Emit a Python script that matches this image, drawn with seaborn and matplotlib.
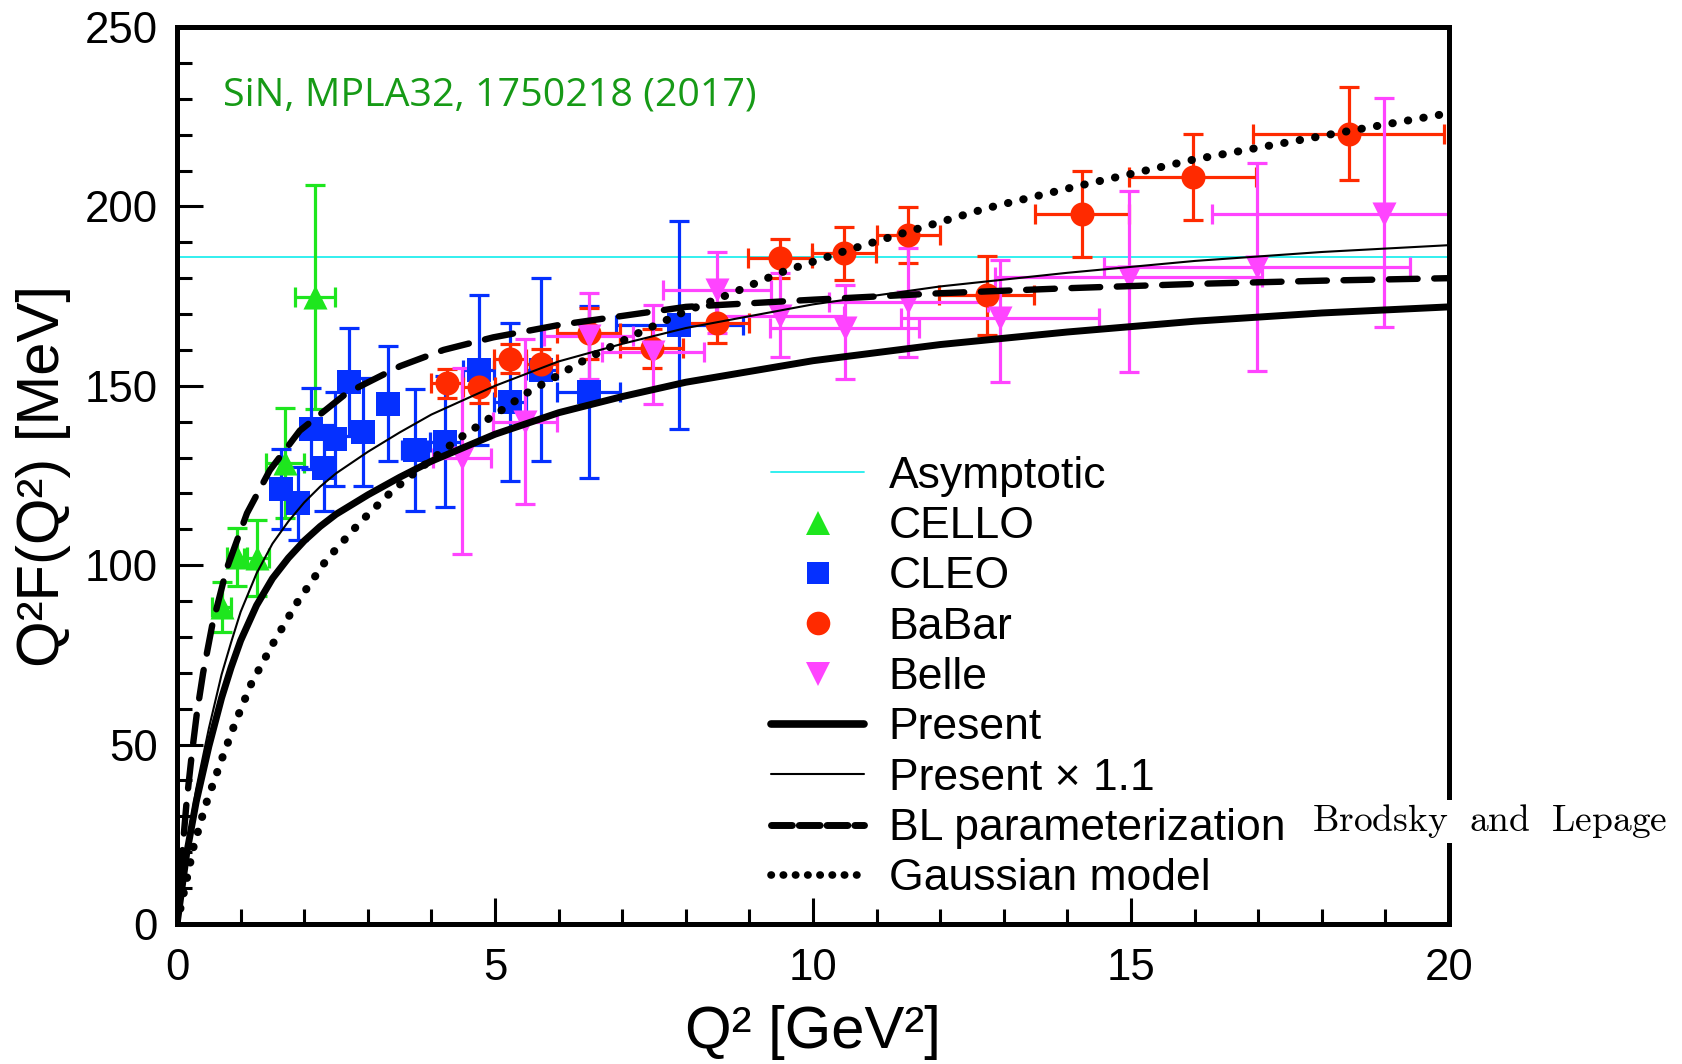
import matplotlib

matplotlib.use("Agg")
import matplotlib.pyplot as plt
import pandas as pd
import seaborn as sns
from matplotlib.lines import Line2D
from matplotlib.ticker import MultipleLocator

# data
CELLO_Q2 = [0.70, 0.94, 1.25, 1.70, 2.17]
CELLO_F = [88.4, 102.3, 101.9, 128.5, 174.8]
CELLO_DY = [7.0, 8.2, 10.6, 15.3, 31.3]
CELLO_DX = [0.15, 0.16, 0.2, 0.3, 0.32]

CLEO_Q2 = [1.63, 1.90, 2.10, 2.31, 2.48, 2.70, 2.93, 3.31, 3.74, 4.22, 4.74, 5.24, 5.73, 6.47, 7.90]
CLEO_F = [121.2, 117.2, 138.1, 127.0, 135.2, 151.1, 137.2, 145.0, 132.1, 134.4, 154.4, 145.5, 154.5, 148.3, 167.0]
CLEO_DY = [11.2, 10.2, 11.2, 12.0, 13.0, 15.0, 15.0, 16.0, 17.0, 18.2, 21.0, 22.0, 25.5, 24.0, 29.0]
CLEO_DX = [0.1, 0.1, 0.1, 0.1, 0.1, 0.12, 0.12, 0.15, 0.2, 0.25, 0.25, 0.25, 0.25, 0.5, 1.0]

BABAR_Q2 = [4.24, 4.75, 5.24, 5.73, 6.47, 7.46, 8.49, 9.48, 10.49, 11.50, 12.73, 14.23, 15.97, 18.42]
BABAR_F = [150.7, 149.6, 157.6, 156.2, 164.6, 160.4, 167.4, 185.5, 186.9, 192.0, 175.3, 198.0, 208.3, 220.3]
BABAR_DY = [4.0, 4.3, 4.1, 4.0, 7.0, 5.5, 5.6, 5.5, 7.5, 7.7, 11.0, 12.0, 12.0, 13.0]
BABAR_DX = [0.24, 0.25, 0.25, 0.25, 0.5, 0.5, 0.5, 0.5, 0.5, 0.5, 0.75, 0.74, 1.0, 1.5]

BELLE_Q2 = [4.48, 5.47, 6.47, 7.48, 8.49, 9.48, 10.50, 11.50, 12.94, 14.96, 16.98, 18.98]
BELLE_F = [129.8, 140.0, 164.0, 159.5, 176.7, 169.5, 166.0, 173.4, 168.8, 180.4, 183.2, 198.0]
BELLE_DY_LO = [26.8, 23.0, 12.0, 14.5, 12.0, 11.5, 14.0, 15.3, 17.7, 26.5, 29.0, 31.7]
BELLE_DY_HI = [25.2, 23.0, 12.0, 13.0, 10.5, 12.0, 12.0, 15.0, 16.3, 24.0, 29.0, 32.3]
BELLE_DX = [0.45, 0.5, 0.7, 0.8, 0.85, 1.0, 1.17, 1.25, 1.55, 2.1, 2.4, 2.7]

PRESENT_Q2 = [0, 0.15, 0.3, 0.5, 0.7, 0.85, 1.0, 1.25, 1.5, 1.75, 2.0, 2.25, 2.5, 3.0, 3.5, 4.0, 5.0,
              6.0, 7.0, 8.0, 10, 12, 14, 16, 18, 20]
PRESENT_F = [0, 19.5, 34, 49.5, 63, 71.5, 79, 88.8, 96.3, 102, 106.8, 110.8, 114.2, 119.6, 124.5, 129,
             136.5, 142.5, 147, 151, 157, 161.5, 165, 168, 170.3, 172]
PRESENT11_F = [0, 21.5, 37.5, 54.5, 69.5, 78.5, 87, 97.7, 106, 112.2, 117.5, 121.9, 125.6, 131.6, 137,
               142, 150, 156.8, 161.7, 166.1, 172.7, 177.7, 181.5, 184.8, 187.3, 189.2]

BL_Q2 = [0, 0.07, 0.15, 0.23, 0.31, 0.41, 0.55, 0.78, 1.1, 1.46, 1.93, 2.67, 3.51, 4.19, 4.97, 6.02,
         8, 10, 12, 14, 16, 18, 20]
BL_F = [0, 17.5, 34, 47, 58.5, 70, 83, 99, 114.5, 126.5, 137.5, 148, 155.5, 160, 163.5, 167,
        172, 174, 175.8, 177.2, 178.4, 179.3, 180]

GAUSS_Q2 = [0, 0.15, 0.26, 0.44, 0.68, 0.91, 1.17, 1.51, 1.88, 2.35, 2.88, 3.40, 3.93, 4.45, 5.0, 5.5,
            6.0, 6.44, 7.17, 7.96, 8.75, 9.48, 10.49, 11.5, 12.73, 14.24, 15.97, 18.42, 20]
GAUSS_F = [0, 12.3, 21.5, 32.7, 44.8, 55.9, 67.1, 78.2, 89.4, 101.5, 112, 121, 128.5, 135.5, 142, 148,
           153, 157.5, 164, 170.5, 176, 181.5, 187.5, 193, 199.5, 206, 213, 221, 226]

ASYMPTOTIC = 186

GREEN = "#1ee61e"
BLUE = "#0530ff"
RED = "#ff2a00"
MAGENTA = "#ff44ff"
CYAN = "#22eeee"

sns.set_theme(style="ticks")
plt.rcParams["font.family"] = ["Liberation Sans", "DejaVu Sans"]
plt.rcParams["mathtext.fontset"] = "cm"
for key in ["text.color", "axes.labelcolor", "xtick.color", "ytick.color", "axes.edgecolor"]:
    plt.rcParams[key] = "black"

fig = plt.figure(figsize=(16.83, 10.64), dpi=100)
ax = fig.add_axes([0.1052, 0.1316, 0.7558, 0.8430])

ax.axhline(ASYMPTOTIC, color=CYAN, lw=1.3, zorder=1)

err_kw = dict(fmt="none", elinewidth=2.3, capsize=7.5, capthick=2.3, zorder=2)
ax.errorbar(CELLO_Q2, CELLO_F, yerr=CELLO_DY, xerr=CELLO_DX, ecolor=GREEN, **err_kw)
ax.errorbar(CLEO_Q2, CLEO_F, yerr=CLEO_DY, xerr=CLEO_DX, ecolor=BLUE, **err_kw)
ax.errorbar(BABAR_Q2, BABAR_F, yerr=BABAR_DY, xerr=BABAR_DX, ecolor=RED, **err_kw)
ax.errorbar(BELLE_Q2, BELLE_F, yerr=[BELLE_DY_LO, BELLE_DY_HI], xerr=BELLE_DX, ecolor=MAGENTA, **err_kw)

for qq, ff, col, mk in [
    (CELLO_Q2, CELLO_F, GREEN, "^"),
    (CLEO_Q2, CLEO_F, BLUE, "s"),
    (BABAR_Q2, BABAR_F, RED, "o"),
    (BELLE_Q2, BELLE_F, MAGENTA, "v"),
]:
    sns.scatterplot(x=qq, y=ff, color=col, marker=mk, s=300, linewidth=0, ax=ax, zorder=3)

curves = pd.DataFrame({"q2": PRESENT_Q2, "present": PRESENT_F, "present11": PRESENT11_F})
sns.lineplot(data=curves, x="q2", y="present", color="black", lw=5, ax=ax, zorder=4,
             solid_capstyle="butt", solid_joinstyle="round")
sns.lineplot(data=curves, x="q2", y="present11", color="black", lw=1.5, ax=ax, zorder=4)
sns.lineplot(x=BL_Q2, y=BL_F, color="black", lw=4.6, ax=ax, zorder=4,
             linestyle=(0, (4.5, 2.6)), dash_capstyle="round")
sns.lineplot(x=GAUSS_Q2, y=GAUSS_F, color="black", lw=5.8, ax=ax, zorder=4,
             linestyle=(0, (0.05, 1.9)), dash_capstyle="round")

ax.set_xlim(0, 20)
ax.set_ylim(0, 250)
ax.xaxis.set_major_locator(MultipleLocator(5))
ax.xaxis.set_minor_locator(MultipleLocator(1))
ax.yaxis.set_major_locator(MultipleLocator(50))
ax.yaxis.set_minor_locator(MultipleLocator(10))
ax.tick_params(which="both", direction="in", top=False, right=False, width=2.2, color="black")
ax.tick_params(which="major", length=19, labelsize=31.5)
ax.tick_params(axis="y", which="major", pad=14)
ax.tick_params(axis="x", which="major", pad=17)
ax.tick_params(which="minor", length=11)
for sp in ax.spines.values():
    sp.set_linewidth(3.6)
    sp.set_color("black")

ax.set_xlabel("Q² [GeV²]", fontsize=43, labelpad=12)
ax.set_ylabel("Q²F(Q²) [MeV]", fontsize=43, labelpad=10)

ax.text(0.73, 231, "SiN, MPLA32, 1750218 (2017)", color="#169a16", fontsize=28.4,
        family=["Open Sans", "DejaVu Sans"], va="center", ha="left")

handles = [
    Line2D([], [], color=CYAN, lw=1.3),
    Line2D([], [], color=GREEN, marker="^", ls="none", markersize=17, markeredgewidth=0),
    Line2D([], [], color=BLUE, marker="s", ls="none", markersize=16, markeredgewidth=0),
    Line2D([], [], color=RED, marker="o", ls="none", markersize=17, markeredgewidth=0),
    Line2D([], [], color=MAGENTA, marker="v", ls="none", markersize=17, markeredgewidth=0),
    Line2D([], [], color="black", lw=5.5),
    Line2D([], [], color="black", lw=1.5),
    Line2D([], [], color="black", lw=5, ls=(0, (3.0, 1.0)), dash_capstyle="round"),
    Line2D([], [], color="black", lw=5.5, ls=(0, (0.05, 1.55)), dash_capstyle="round"),
]
labels = ["Asymptotic", "CELLO", "CLEO", "BaBar", "Belle", "Present", "Present × 1.1",
          "BL parameterization", "Gaussian model"]
ax.legend(handles, labels, loc="upper left", bbox_to_anchor=(0.467, 0.522), frameon=False,
          fontsize=32, handlelength=2.1, handletextpad=0.55, labelspacing=0.21,
          borderpad=0, borderaxespad=0)

fig.text(0.7795, 0.228, r"$\mathrm{Brodsky\ \ and\ \ Lepage}$", fontsize=27, va="center",
         ha="left", zorder=10,
         bbox=dict(facecolor="white", edgecolor="none", pad=2))

fig.savefig("out.png", dpi=100)
